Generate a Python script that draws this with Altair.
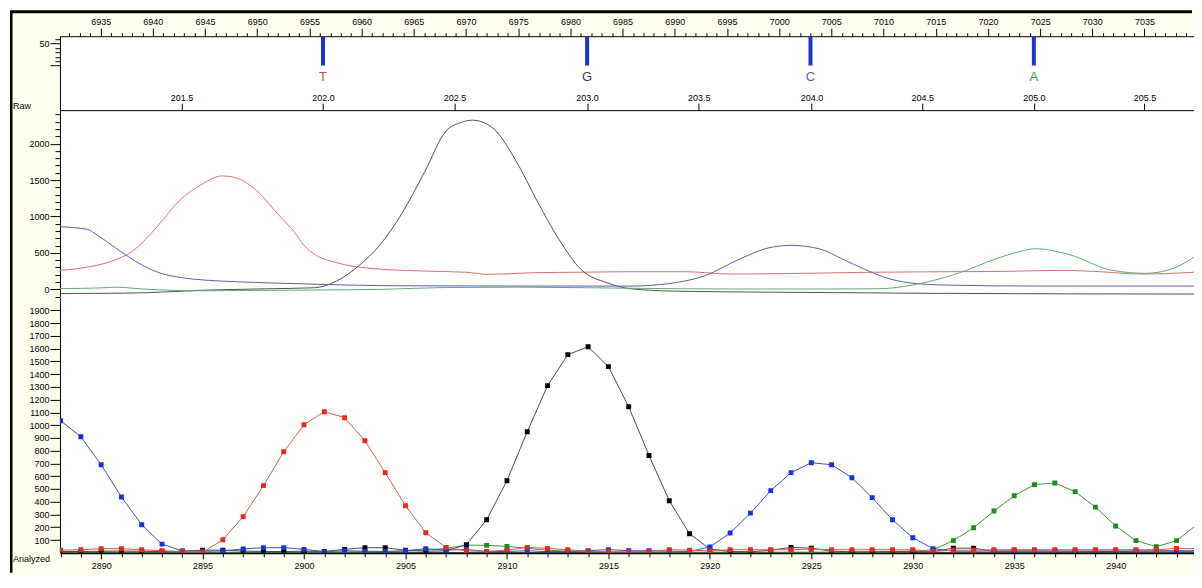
import altair as alt
import pandas as pd

# ---------------- data ----------------
# base calls (top panel)
call_base = ["T", "G", "C", "A"]
call_scan = [6956.3, 6981.6, 7003.0, 7024.4]
call_qv = [66, 66, 66, 66]
call_color = ["#c24a4a", "#3c3c3c", "#5a5ab4", "#3f9f3f"]

# bp size axis: labels and the scan numbers they sit at
bp_labels = ["201.5", "202.0", "202.5", "203.0", "203.5", "204.0", "204.5", "205.0", "205.5"]
bp_scan = [6942.75, 6956.3, 6968.9, 6981.6, 6992.3, 7003.1, 7013.7, 7024.4, 7035.0]

# raw traces (scan number, signal)
raw_red_scan = [6931.1, 6933.5, 6936.1, 6938.0, 6939.3, 6940.6, 6942.5, 6944.7, 6946.6, 6947.9,
                6949.8, 6952.0, 6953.6, 6954.5, 6955.5, 6957.6, 6960.8, 6966.0, 6970.0, 6972.0,
                6976.5, 6981.0, 6985.8, 6991.0, 6995.3, 7002.3, 7009.0, 7015.9, 7021.0, 7027.0,
                7031.0, 7034.7, 7040.6]
raw_red_val = [261, 300, 389, 520, 687, 893, 1213, 1443, 1557, 1533,
               1374, 1030, 778, 600, 480, 366, 288, 251, 235, 206,
               228, 235, 242, 242, 210, 220, 235, 242, 245, 261,
               240, 210, 242]

raw_black_scan = [6931.1, 6935.0, 6939.5, 6944.4, 6950.0, 6955.5, 6957.6, 6959.7, 6961.8, 6963.9,
                  6966.0, 6968.1, 6969.5, 6970.6, 6971.5, 6972.7, 6974.7, 6976.9, 6978.9, 6981.0,
                  6983.5, 6985.8, 6990.0, 7000.0, 7015.0, 7040.6]
raw_black_val = [-58, -55, -46, -14, 5, 22, 114, 320, 618, 1052,
                 1602, 2175, 2290, 2322, 2300, 2198, 1786, 1190, 687, 275,
                 91, 8, -25, -40, -55, -65]

raw_blue_scan = [6931.1, 6933.7, 6934.8, 6936.4, 6938.3, 6940.6, 6942.8, 6945.3, 6947.9, 6954.5,
                 6962.5, 6975.0, 6985.8, 6989.3, 6992.8, 6996.3, 6999.0, 7001.2, 7004.0, 7006.0,
                 7008.2, 7010.0, 7012.4, 7015.9, 7025.0, 7040.6]
raw_blue_val = [860, 824, 732, 572, 389, 228, 160, 124, 105, 75,
                50, 45, 45, 77, 183, 421, 570, 604, 550, 420,
                275, 170, 91, 59, 45, 45]

raw_green_scan = [6931.1, 6935.0, 6936.5, 6939.0, 6944.7, 6950.0, 6955.0, 6962.0, 6968.0, 6975.0,
                  6985.8, 6995.0, 7005.0, 7009.6, 7013.1, 7017.3, 7020.8, 7022.7, 7024.6, 7027.7,
                  7031.9, 7035.1, 7037.5, 7040.6]
raw_green_val = [10, 20, 30, 5, -20, -15, -10, 0, 25, 30,
                 15, 5, 5, 8, 69, 228, 421, 505, 558, 481,
                 261, 220, 275, 526]

# analyzed traces (data point index, signal)
ana_pos = list(range(2888, 2945))
ana_red = [21, 24, 32, 32, 24, 16, 8, 5, 102, 283, 526, 792, 1004, 1106, 1059, 878, 628, 369, 157, 42,
           15, 10, 21, 42, 34, 24, 10, 8, 8, 10, 24, 21, 15, 24, 24, 24, 24, 29, 24, 24,
           24, 24, 24, 10, 20, 20, 24, 24, 24, 24, 24, 24, 24, 24, 24, 34, 34]
ana_blue = [1035, 910, 690, 437, 220, 68, 14, 12, 15, 30, 40, 40, 27, 9, 16, 12, 10, 16, 32, 20,
            26, 10, 10, 16, 8, 12, 16, 25, 16, 16, 12, 10, 45, 155, 311, 487, 628, 706, 690, 588,
            432, 259, 118, 32, 12, 12, 14, 16, 16, 14, 14, 14, 14, 14, 14, 16, 16]
ana_black = [10, 10, 12, 14, 12, 10, 12, 21, 20, 14, 10, 10, 12, 10, 27, 40, 40, 20, 12, 15,
             63, 259, 565, 949, 1310, 1553, 1615, 1459, 1145, 763, 408, 149, 30, 10, 8, 20, 42, 36, 12, 8,
             8, 10, 12, 10, 36, 36, 10, 8, 8, 8, 8, 10, 10, 12, 14, 12, 12]
ana_green = [5, 5, 6, 6, 5, 5, 4, 4, 4, 5, 5, 5, 5, 5, 6, 8, 10, 12, 20, 35,
             60, 58, 50, 35, 20, 12, 8, 6, 5, 5, 5, 5, 5, 5, 5, 5, 5, 5, 5, 5,
             5, 5, 8, 25, 95, 196, 327, 447, 534, 547, 479, 358, 210, 95, 48, 95, 220]

panel_titles = ["Raw", "Analyzed"]

# ---------------- layout / style ----------------
W = 1135
H_TOP, H_RAW, H_ANA = 74, 187, 256
FONT = "Liberation Sans"
CREAM = "#FFFFF0"


def cond(test, a, b):
    return {"condition": {"test": test, "value": a}, "value": b}


scan_scale = alt.Scale(domain=[6931.1, 7039.74], nice=False, zero=False)
top_scale_y = alt.Scale(domain=[-101.6, 66.6], nice=False, zero=False)

top_x = alt.X(
    "scan:Q", scale=scan_scale, title=None,
    axis=alt.Axis(orient="top", values=list(range(6932, 7040)), format="d",
                  labelExpr="datum.value % 5 === 0 ? datum.label : ''",
                  tickSize=cond("datum.value % 5 === 0", 8, 3.5), labelPadding=2),
)
top_y = alt.Y(
    "qv:Q", scale=top_scale_y, title=None,
    axis=alt.Axis(values=[0, 10, 20, 30, 40, 50, 60], format="d",
                  labelExpr="datum.value == 50 ? '50' : ''",
                  tickSize=cond("datum.value % 50 === 0", 10, 5), labelPadding=1),
)

calls = pd.DataFrame({"scan": call_scan, "qv": call_qv, "zero": [0] * 4})
call_text = pd.DataFrame({"scan": call_scan, "qv": [-27] * 4, "base": call_base, "col": call_color})
dummy = pd.DataFrame({"a": [0]})

bars = alt.Chart(calls).mark_rule(color="#1e32d2", strokeWidth=4).encode(
    x=top_x, y=top_y, y2="zero:Q")
letters = alt.Chart(call_text).mark_text(fontSize=13, font=FONT, baseline="middle").encode(
    x=top_x, y=top_y, text="base:N", color=alt.Color("col:N", scale=None))
border_top = alt.Chart(dummy).mark_rule(color="black", strokeWidth=3).encode(
    x=alt.value(-50), x2=alt.value(W - 2), y=alt.value(-24.5))
border_left = alt.Chart(dummy).mark_rule(color="black", strokeWidth=2.5).encode(
    x=alt.value(-48.75), y=alt.value(-25), y2=alt.value(H_TOP + H_RAW + H_ANA + 20))

top = alt.layer(bars, letters, border_top, border_left).properties(width=W, height=H_TOP)

# raw panel
bp_expr = ("[" + ",".join("'%s'" % s for s in bp_labels) + "][indexof(["
           + ",".join(str(v) for v in bp_scan) + "], datum.value)]")
raw_x = alt.X(
    "scan:Q", scale=scan_scale, title=None,
    axis=alt.Axis(orient="top", values=bp_scan, labelExpr=bp_expr, tickSize=7, labelPadding=1),
)
raw_scale_y = alt.Scale(domain=[-105, 2460], nice=False, zero=False)
raw_y = alt.Y(
    "val:Q", scale=raw_scale_y, title=None,
    axis=alt.Axis(values=list(range(-100, 2500, 100)), format="d",
                  labelExpr="datum.value % 500 === 0 ? datum.label : ''",
                  tickSize=cond("datum.value % 500 === 0", 10, 5), labelPadding=1),
)

raw_series = [
    (raw_red_scan, raw_red_val, "#d87070"),
    (raw_black_scan, raw_black_val, "#505050"),
    (raw_blue_scan, raw_blue_val, "#5c5cb2"),
    (raw_green_scan, raw_green_val, "#62aa74"),
]
raw_layers = []
for sc, vals, col in raw_series:
    df = pd.DataFrame({"scan": sc, "val": vals})
    raw_layers.append(
        alt.Chart(df).mark_line(color=col, strokeWidth=1, interpolate="monotone", clip=True)
        .encode(x=raw_x, y=raw_y))
raw_title = alt.Chart(dummy).mark_text(align="left", baseline="middle", fontSize=9, font=FONT,
                                       color="black").encode(
    x=alt.value(-47), y=alt.value(-4), text=alt.value(panel_titles[0]))
raw = alt.layer(*raw_layers, raw_title).properties(width=W, height=H_RAW)

# analyzed panel
ana_x = alt.X(
    "pos:Q", scale=alt.Scale(domain=[2887.97, 2943.86], nice=False, zero=False), title=None,
    axis=alt.Axis(orient="bottom", values=ana_pos[:-1], format="d",
                  labelExpr="datum.value % 5 === 0 ? datum.label : ''",
                  tickSize=cond("datum.value % 5 === 0", 6, 4), labelPadding=3, domainWidth=2),
)
ana_y = alt.Y(
    "val:Q", scale=alt.Scale(domain=[0, 2005], nice=False, zero=False), title=None,
    axis=alt.Axis(values=list(range(100, 2000, 100)), format="d", tickSize=10, labelPadding=1),
)
ana_series = [
    (ana_green, "#3c9a3c", "#1f8a1f"),
    (ana_black, "#4a4a4a", "#000000"),
    (ana_blue, "#3f4fc0", "#1632dc"),
    (ana_red, "#dd5a4c", "#e52a1c"),
]
ana_layers = []
for vals, lc, pc in ana_series:
    df = pd.DataFrame({"pos": ana_pos, "val": vals})
    base = alt.Chart(df).encode(x=ana_x, y=ana_y)
    ana_layers.append(base.mark_line(color=lc, strokeWidth=1, clip=True))
    ana_layers.append(base.mark_point(shape="square", filled=True, size=24, color=pc, opacity=1, clip=True))
ana_title = alt.Chart(dummy).mark_text(align="left", baseline="middle", fontSize=9, font=FONT,
                                       color="black").encode(
    x=alt.value(-47), y=alt.value(H_ANA + 6), text=alt.value(panel_titles[1]))
ana = alt.layer(*ana_layers, ana_title).properties(width=W, height=H_ANA)

chart = (
    alt.vconcat(top, raw, ana, spacing=0, bounds="flush")
    .properties(padding={"top": 1, "left": 0, "right": 0, "bottom": 0}, background=CREAM)
    .configure_view(fill="white", strokeWidth=0)
    .configure_axis(labelFont=FONT, labelFontSize=9, labelColor="black", tickColor="black",
                    domainColor="black", grid=False, labelOverlap=False, labelFlush=False,
                    labelBound=False, tickWidth=1)
)

chart.save("out.html", embed_options={"renderer": "svg", "actions": False})
